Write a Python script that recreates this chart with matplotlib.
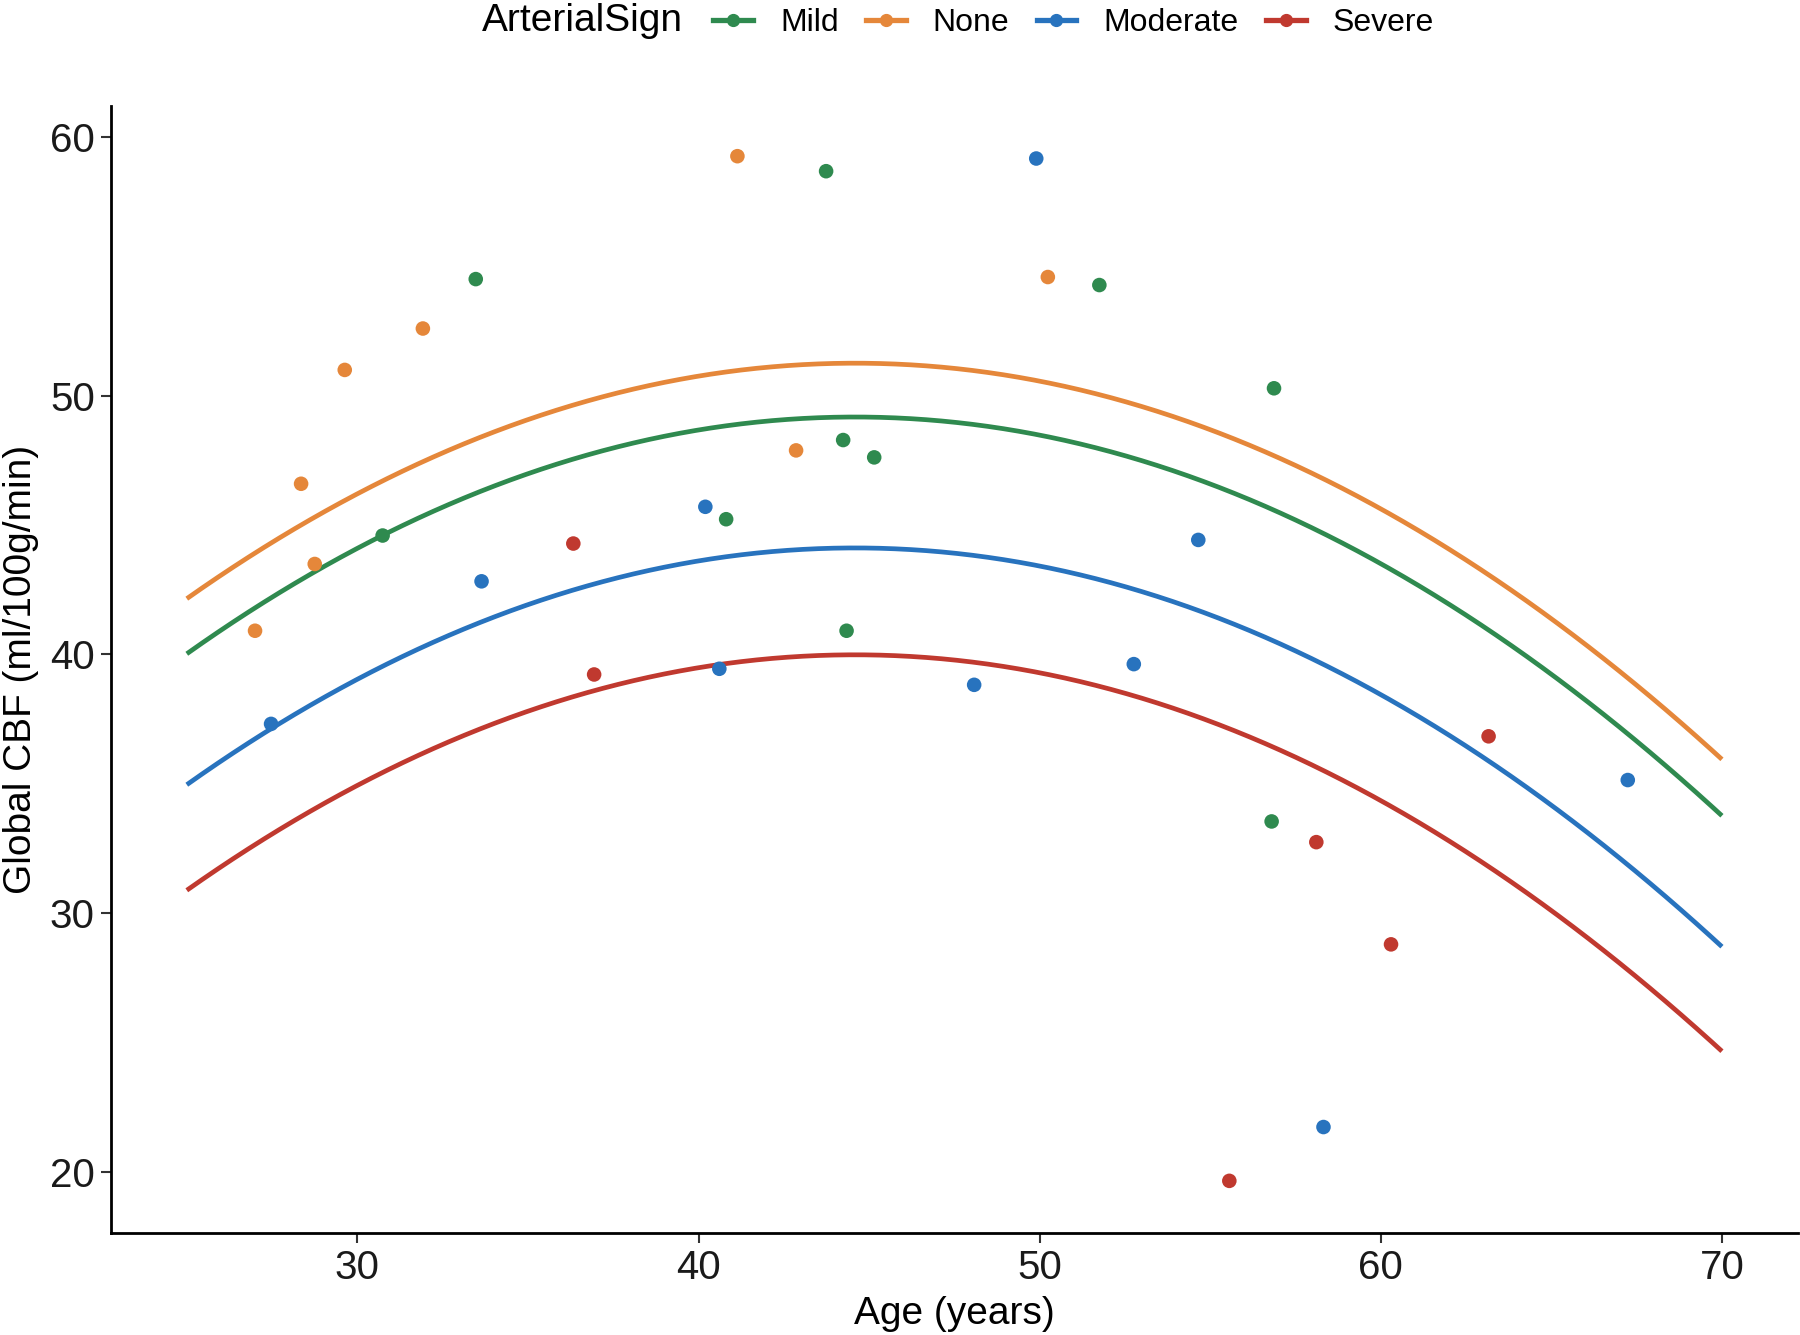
import numpy as np
import matplotlib
matplotlib.use("Agg")
import matplotlib.pyplot as plt
from matplotlib.lines import Line2D

plt.rcParams['font.family'] = ['Liberation Sans', 'DejaVu Sans']

groups = ["Mild", "None", "Moderate", "Severe"]
colors = {"Mild": "#2F8A4F", "None": "#E5873A", "Moderate": "#2873BE", "Severe": "#C0392F"}

# scatter data (age, CBF)
mild_age = [33.47, 43.74, 30.74, 51.75, 56.87, 44.24, 45.15, 40.81, 44.34, 56.80]
mild_cbf = [54.50, 58.67, 44.59, 54.27, 50.28, 48.28, 47.61, 45.22, 40.91, 33.54]
none_age = [41.14, 50.24, 31.92, 29.63, 28.35, 28.75, 27.00, 42.86]
none_cbf = [59.25, 54.58, 52.59, 50.99, 46.59, 43.49, 40.91, 47.88]
mod_age = [49.90, 40.20, 33.64, 54.65, 27.47, 40.61, 48.08, 52.76, 67.24, 58.32]
mod_cbf = [59.16, 45.70, 42.82, 44.42, 37.31, 39.44, 38.82, 39.62, 35.14, 21.73]
sev_age = [36.33, 36.94, 63.16, 58.11, 60.30, 55.56]
sev_cbf = [44.28, 39.22, 36.83, 32.74, 28.79, 19.65]

# fitted curve readings at ages 25, 44.5 (peak), 70
curve_age = [25.0, 44.5, 70.0]
mild_curve = [40.02, 49.17, 33.76]
none_curve = [42.15, 51.25, 35.94]
mod_curve = [34.96, 44.11, 28.70]
sev_curve = [30.88, 39.98, 24.66]

scatter = {"Mild": (mild_age, mild_cbf), "None": (none_age, none_cbf),
           "Moderate": (mod_age, mod_cbf), "Severe": (sev_age, sev_cbf)}
curves = {"Mild": mild_curve, "None": none_curve, "Moderate": mod_curve, "Severe": sev_curve}

fig = plt.figure(figsize=(18, 13.35), dpi=100)
ax = fig.add_axes([0.0619, 0.0767, 0.9368, 0.8441])

xs = np.linspace(25, 70, 300)
for g in ["None", "Mild", "Moderate", "Severe"]:
    coef = np.polyfit(curve_age, curves[g], 2)
    ax.plot(xs, np.polyval(coef, xs), color=colors[g], lw=3.4, solid_capstyle='butt', zorder=2)
for g in groups:
    a, c = scatter[g]
    ax.scatter(a, c, s=110, color=colors[g], edgecolors='none', zorder=3)

ax.set_xlim(22.79, 72.22)
ax.set_ylim(17.65, 61.2)
ax.set_xticks([30, 40, 50, 60, 70])
ax.set_yticks([20, 30, 40, 50, 60])
for s in ["top", "right"]:
    ax.spines[s].set_visible(False)
for s in ["left", "bottom"]:
    ax.spines[s].set_linewidth(2.0)
    ax.spines[s].set_color("black")
ax.tick_params(axis='both', length=7, width=1.5, color='#333333', labelsize=29,
               labelcolor='#1a1a1a', pad=5)
ax.set_xlabel("Age (years)", fontsize=28, labelpad=6)
ax.set_ylabel("Global CBF (ml/100g/min)", fontsize=28, labelpad=8)

fig.text(0.268, 0.984, "ArterialSign", fontsize=28, va='center', ha='left')
handles = [Line2D([0], [0], color=colors[g], lw=3.8, marker='o', markersize=8.5) for g in groups]
fig.legend(handles, groups, loc='center left', bbox_to_anchor=(0.396, 0.983), ncol=4,
           frameon=False, fontsize=23, handlelength=1.25, handletextpad=0.85,
           columnspacing=0.85, borderpad=0, borderaxespad=0)

fig.savefig("out.png", dpi=100)
